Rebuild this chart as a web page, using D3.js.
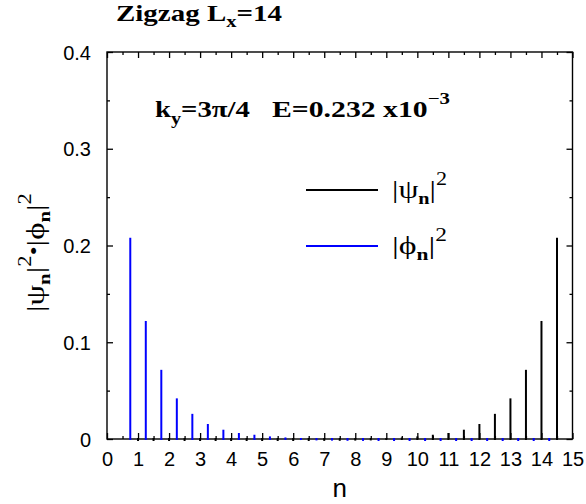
<!DOCTYPE html>
<html>
<head>
<meta charset="utf-8">
<script src="https://cdn.jsdelivr.net/npm/d3@7"></script>
<style>
  body { margin: 0; background: #fff; }
  svg { display: block; }
</style>
</head>
<body>
<div id="chart-area"></div>
<script>
// wavefunction weights on the two sublattices, Lx = 14 zigzag ribbon
const phiN = [0.75, 1.25, 1.75, 2.25, 2.75, 3.25, 3.75, 4.25, 4.75, 5.25, 5.75, 6.25, 6.75, 7.25,
              7.75, 8.25, 8.75, 9.25, 9.75, 10.25, 10.75, 11.25, 11.75, 12.25, 12.75, 13.25, 13.75, 14.25]
const phiValues = [0.208, 0.122, 0.0715, 0.042, 0.026, 0.0155, 0.0096, 0.0062, 0.0044, 0.0027, 0.0016, 0.001, 0.0006, 0.0004,
                   0.0002, 0.0001, 0, 0, 0, 0, 0, 0, 0, 0, 0, 0, 0, 0]
const psiN = [1, 1.5, 2, 2.5, 3, 3.5, 4, 4.5, 5, 5.5, 6, 6.5, 7, 7.5,
              8, 8.5, 9, 9.5, 10, 10.5, 11, 11.5, 12, 12.5, 13, 13.5, 14, 14.5]
const psiValues = [0, 0, 0, 0, 0, 0, 0, 0, 0, 0, 0, 0, 0.0001, 0.0002,
                   0.0004, 0.0006, 0.001, 0.0016, 0.0027, 0.0044, 0.0062, 0.0096, 0.0155, 0.026, 0.042, 0.0715, 0.122, 0.208]

const xTicks = [0, 1, 2, 3, 4, 5, 6, 7, 8, 9, 10, 11, 12, 13, 14, 15]
const xTickLabels = ["0", "1", "2", "3", "4", "5", "6", "7", "8", "9", "10", "11", "12", "13", "14", "15"]
const yTicks = [0, 0.1, 0.2, 0.3, 0.4]
const yTickLabels = ["0", "0.1", "0.2", "0.3", "0.4"]

const W = 586, H = 504
const PLOT = { LEFT: 107, RIGHT: 572.5, TOP: 52, BOTTOM: 439 }
const SANS = "'Liberation Sans', Arial, sans-serif"
const SERIF = "'Liberation Serif', 'Times New Roman', serif"

const svg = d3.select("#chart-area").append("svg")
    .attr("width", W)
    .attr("height", H)

const x = d3.scaleLinear().domain([0, 15]).range([PLOT.LEFT, PLOT.RIGHT])
const y = d3.scaleLinear().domain([0, 0.4]).range([PLOT.BOTTOM, PLOT.TOP])

const halves = d3.range(0.5, 15, 1)
const yHalves = [0.05, 0.15, 0.25, 0.35]

// axes, ticks pointing inward on all four sides
function styleAxis(sel) {
    sel.select(".domain").remove()
    sel.selectAll("line").attr("stroke", "#000").attr("stroke-width", 1.3)
}

svg.append("g").attr("transform", `translate(0,${PLOT.BOTTOM})`)
    .call(d3.axisBottom(x).tickValues(xTicks).tickSize(-6).tickFormat((d, i) => xTickLabels[i]))
    .call(styleAxis)
    .call(g => g.selectAll("text")
        .attr("y", 27).attr("dy", null)
        .attr("font-family", SANS).attr("font-size", "20px").attr("fill", "#000"))
svg.append("g").attr("transform", `translate(0,${PLOT.BOTTOM})`)
    .call(d3.axisBottom(x).tickValues(halves).tickSize(-3).tickFormat(""))
    .call(styleAxis)
svg.append("g").attr("transform", `translate(0,${PLOT.TOP})`)
    .call(d3.axisTop(x).tickValues(xTicks).tickSize(-6).tickFormat(""))
    .call(styleAxis)
svg.append("g").attr("transform", `translate(0,${PLOT.TOP})`)
    .call(d3.axisTop(x).tickValues(halves).tickSize(-3).tickFormat(""))
    .call(styleAxis)

svg.append("g").attr("transform", `translate(${PLOT.LEFT},0)`)
    .call(d3.axisLeft(y).tickValues(yTicks).tickSize(-6).tickPadding(16).tickFormat((d, i) => yTickLabels[i]))
    .call(styleAxis)
    .call(g => g.selectAll("text")
        .attr("dy", "0.36em")
        .attr("font-family", SANS).attr("font-size", "20px").attr("fill", "#000"))
svg.append("g").attr("transform", `translate(${PLOT.LEFT},0)`)
    .call(d3.axisLeft(y).tickValues(yHalves).tickSize(-3).tickFormat(""))
    .call(styleAxis)
svg.append("g").attr("transform", `translate(${PLOT.RIGHT},0)`)
    .call(d3.axisRight(y).tickValues(yTicks).tickSize(-6).tickFormat(""))
    .call(styleAxis)
svg.append("g").attr("transform", `translate(${PLOT.RIGHT},0)`)
    .call(d3.axisRight(y).tickValues(yHalves).tickSize(-3).tickFormat(""))
    .call(styleAxis)

svg.append("rect")
    .attr("x", PLOT.LEFT).attr("y", PLOT.TOP)
    .attr("width", PLOT.RIGHT - PLOT.LEFT).attr("height", PLOT.BOTTOM - PLOT.TOP)
    .attr("fill", "none").attr("stroke", "#000").attr("stroke-width", 1.4)

// impulse bars
const psi = psiN.map((n, i) => ({ n, v: psiValues[i] }))
const phi = phiN.map((n, i) => ({ n, v: phiValues[i] }))

svg.append("g").selectAll("line").data(psi).enter().append("line")
    .attr("x1", d => x(d.n)).attr("x2", d => x(d.n))
    .attr("y1", y(0)).attr("y2", d => y(d.v) + 1)
    .attr("stroke", "#000").attr("stroke-width", 2).attr("stroke-linecap", "square")

svg.append("g").selectAll("line").data(phi).enter().append("line")
    .attr("x1", d => x(d.n)).attr("x2", d => x(d.n))
    .attr("y1", y(0)).attr("y2", d => y(d.v) + 1)
    .attr("stroke", "#0000ff").attr("stroke-width", 2).attr("stroke-linecap", "square")

// rich text helper: parts = [text, size, dy, weight]; len stretches to the given width
function richText(parent, xPos, yPos, family, parts, len, anchor) {
    const t = parent.append("text")
        .attr("x", xPos).attr("y", yPos)
        .attr("font-family", family)
        .attr("text-anchor", anchor || "start")
        .attr("fill", "#000")
    parts.forEach(p => {
        t.append("tspan")
            .attr("font-size", p[1] + "px")
            .attr("dy", p[2])
            .attr("font-weight", p[3] || "normal")
            .text(p[0])
    })
    if (len) t.attr("textLength", len).attr("lengthAdjust", "spacingAndGlyphs")
    return t
}

// title
richText(svg, 116, 21, SERIF, [
    ["Zigzag L", 22.5, 0, "bold"],
    ["x", 16, 6, "bold"],
    ["=14", 22.5, -6, "bold"]
], 166)

// annotation
richText(svg, 155, 117, SERIF, [
    ["k", 23.5, 0, "bold"],
    ["y", 16.5, 7, "bold"],
    ["=3\u03c0/4", 23.5, -7, "bold"]
], 95)
richText(svg, 272, 117, SERIF, [
    ["E=0.232 x10", 23.5, 0, "bold"],
    ["\u22123", 16.5, -13, "bold"]
], 178)

// legend
const legend = [
    { color: "#000", y: 190, sym: "|\u03c8" },
    { color: "#0000ff", y: 246, sym: "|\u03d5" }
]
legend.forEach(l => {
    svg.append("line")
        .attr("x1", 306).attr("x2", 378)
        .attr("y1", l.y).attr("y2", l.y)
        .attr("stroke", l.color).attr("stroke-width", 2)
    richText(svg, 392, l.y + 8, SERIF, [
        [l.sym, 26, 0],
        ["n", 16.5, 6, "bold"],
        ["|", 26, -6],
        ["2", 18, -13]
    ], 55)
})

// axis titles
svg.append("text")
    .attr("x", (PLOT.LEFT + PLOT.RIGHT) / 2).attr("y", 497)
    .attr("text-anchor", "middle")
    .attr("font-family", SANS).attr("font-size", "26px")
    .text("n")

richText(svg.append("g").attr("transform", "translate(44,312) rotate(-90)"), 0, 0, SERIF, [
    ["|\u03c8", 26, 0],
    ["n", 16.5, 6, "bold"],
    ["|", 26, -6],
    ["2", 18, -13],
    ["\u2022", 20, 10],
    ["|\u03d5", 26, 3],
    ["n", 16.5, 6, "bold"],
    ["|", 26, -6],
    ["2", 18, -13]
], 119)
</script>
</body>
</html>
